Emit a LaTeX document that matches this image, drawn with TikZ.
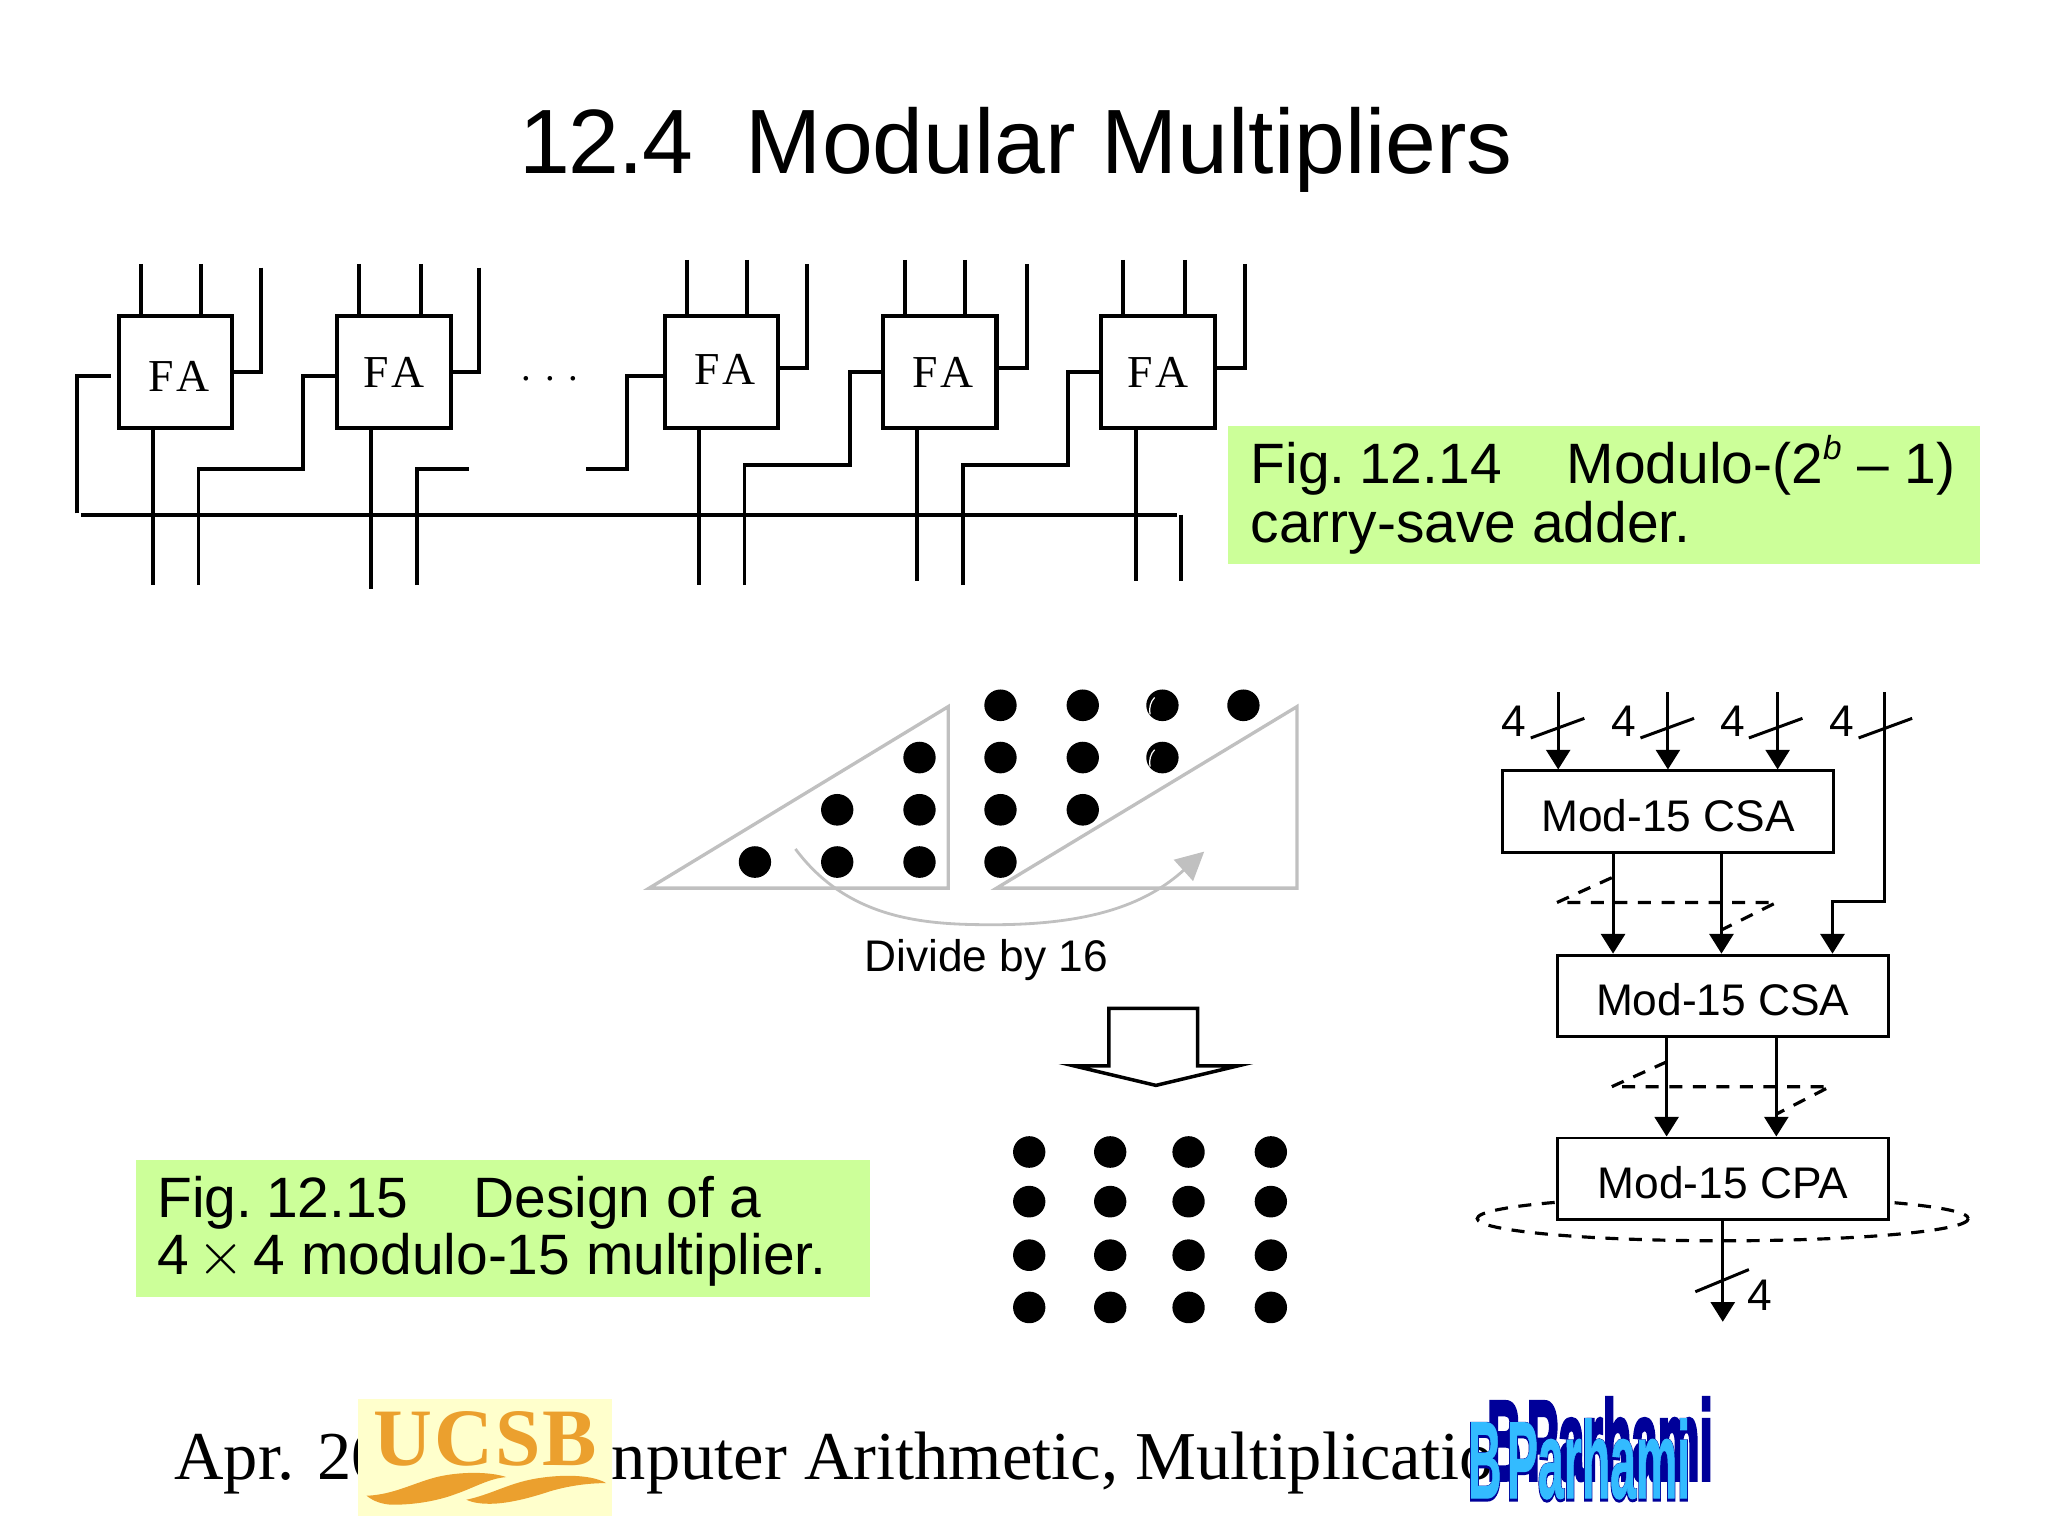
\documentclass[tikz,border=0pt]{standalone}
\usepackage{fontspec}
\setmainfont{Liberation Sans}
\newfontfamily\timesf{Liberation Serif}
\newfontfamily\ucsbf{Liberation Serif Bold}
\newfontfamily\wordart[FakeBold=1]{Liberation Sans Bold}
\newfontfamily\wordartfat[FakeBold=4]{Liberation Sans Bold}
\usetikzlibrary{arrows.meta,calc,shapes.geometric}
\definecolor{capgreen}{HTML}{CCFF99}
\definecolor{softgray}{HTML}{C0C0C0}
\definecolor{ucsbbg}{HTML}{FFFFCC}
\definecolor{ucsbor}{HTML}{EBA02E}
\definecolor{wadark}{HTML}{000099}
\definecolor{wacyan}{HTML}{33BBFF}
\tikzset{
  x=0.0130612cm, y=-0.0130612cm,
  fabox/.style={draw,line width=1.15pt,minimum width=32.3pt,minimum height=31.9pt,inner sep=0pt,text height=8.6pt,text depth=0pt,font=\timesf\fontsize{13}{13}\selectfont},
  wire/.style={line width=1.1pt},
  caption/.style={anchor=base west,inner sep=0,font=\fontsize{16.2}{16.2}\selectfont},
  grayline/.style={draw=softgray,line width=0.95pt},
  dot/.style={fill=black,draw=none,ellipse,minimum width=9.2pt,minimum height=9pt,inner sep=0},
  modbox/.style={draw,fill=white,line width=0.85pt,minimum width=94.3pt,minimum height=23.2pt,inner sep=0,text height=11.4pt,text depth=0pt,font=\fontsize{12.6}{12.6}\selectfont},
  fl/.style={line width=0.85pt},
  arr/.style={fl,-{Triangle[length=5.6pt,width=6.8pt]}},
  lab/.style={inner sep=0,font=\fontsize{12.6}{12.6}\selectfont},
  dashline/.style={line width=0.9pt,dash pattern=on 3.7pt off 3pt},
  glint/.style={draw=white,line width=0.35pt},
}
\begin{document}
\begin{tikzpicture}
\useasboundingbox (0,0) rectangle (1568,1176);
\node[anchor=base,inner sep=0,font=\fontsize{26}{26}\selectfont] (title) at (778,133) {1\kern-0.6pt 2.\kern-0.6pt 4\hspace{0.58em}Modular Multipliers};

% ---- Fig 12.14: FA row
\node[fabox,text height=10.8pt] (fa1) at (134.5,285) {\hspace{2pt}F\kern0.8pt A};
\node[fabox] (fa2) at (301.5,285) {F\kern0.8pt A};
\node[fabox,text depth=1.5pt] (fa3) at (552.5,285) {\hspace{2pt}F\kern0.8pt A};
\node[fabox] (fa4) at (719.5,285) {\hspace{2pt}F\kern0.8pt A};
\node[fabox] (fa5) at (886.5,285) {F\kern0.8pt A};
\node[inner sep=0,font=\timesf\fontsize{11}{11}\selectfont] (dots) at (421,290) {.\hspace{4pt}.\hspace{4pt}.};

\foreach \n/\xa/\xb/\xc/\ya/\yc/\yr in {1/108/154/200/202/205/285, 2/275/322/367/202/205/285, 3/526/572/618/199/202/282, 4/693/739/786/199/202/282, 5/860/907/953/199/202/282}{
  \coordinate (ta\n) at (\xa,\ya);
  \coordinate (tb\n) at (\xb,\ya);
  \coordinate (tc\n) at (\xc,\yc);
  \coordinate (tr\n) at (\xc,\yr);
  \draw[wire] (ta\n) -- (ta\n |- fa\n.north);
  \draw[wire] (tb\n) -- (tb\n |- fa\n.north);
  \draw[wire] (tc\n) -- (tr\n) -- (tr\n -| fa\n.east);
}
\foreach \n/\xs/\ye in {1/117/448, 2/284/451, 3/535/448, 4/702/445, 5/870/445}{
  \coordinate (bo\n) at (\xs,\ye);
  \draw[wire] (bo\n |- fa\n.south) -- (bo\n);
}
\coordinate (busl) at (62,394);
\coordinate (busr) at (901,394);
\coordinate (endd) at (904,445);
\draw[wire] (busl) -- (busr);
\draw[wire] (endd |- busr) -- (endd);
\coordinate (wa) at (59,393);
\coordinate (wb) at (59,288);
\coordinate (wc) at (85,288);
\draw[wire] (wa) -- (wb) -- (wc);
\coordinate (c2a) at (152,448); \coordinate (c2b) at (152,359); \coordinate (c2c) at (232,359); \coordinate (c2d) at (232,288);
\draw[wire] (c2a) -- (c2b) -- (c2c) -- (c2d) -- (c2d -| fa2.west);
\coordinate (c3a) at (319,448); \coordinate (c3b) at (319,359); \coordinate (c3c) at (359,359);
\draw[wire] (c3a) -- (c3b) -- (c3c);
\coordinate (c4a) at (449,359); \coordinate (c4b) at (480,359); \coordinate (c4c) at (480,288);
\draw[wire] (c4a) -- (c4b) -- (c4c) -- (c4c -| fa3.west);
\coordinate (c5a) at (570,448); \coordinate (c5b) at (570,356); \coordinate (c5c) at (651,356); \coordinate (c5d) at (651,285);
\draw[wire] (c5a) -- (c5b) -- (c5c) -- (c5d) -- (c5d -| fa4.west);
\coordinate (c6a) at (737,448); \coordinate (c6b) at (737,356); \coordinate (c6c) at (818,356); \coordinate (c6d) at (818,285);
\draw[wire] (c6a) -- (c6b) -- (c6c) -- (c6d) -- (c6d -| fa5.west);

% captions
\fill[capgreen] (940,326) rectangle (1516,432);
\node[caption] (cap1a) at (957,370) {Fig.\hspace{0.24em}12.14\hspace{18.5pt}Modulo-(2\raisebox{0.42em}{\fontsize{9.5}{9.5}\selectfont\itshape b} – 1)};
\node[caption] (cap1b) at (957,415) {carry-save adder.};
\fill[capgreen] (104,888) rectangle (666,993);
\node[caption] (cap2a) at (120,932) {Fig.\hspace{0.24em}12.15\hspace{18.5pt}Design of a};
\node[caption] (cap2b) at (120,976) {4\hspace{2.5pt}$\times$\hspace{2.5pt}4 modulo-15 multiplier.};

% ---- dot diagram
\draw[grayline,line join=miter] (497,680) -- (726,680) -- (726,541) -- cycle;
\draw[grayline,line join=miter] (763,680) -- (993,680) -- (993,541) -- cycle;
\foreach \xx/\yy in {578/660,641/660,704/660,766/660,641/620,704/620,766/620,829/620,704/580,766/580,829/580,890/580,766/540,829/540,890/540,952/540}
  \node[dot] at (\xx,\yy) {};
\draw[glint] (880.5,547) .. controls (879.5,542) and (881,537) .. (884,534);
\draw[glint] (880.5,587) .. controls (879.5,582) and (881,577) .. (884,574);
\coordinate (cs) at (609,650);
\coordinate (ce) at (922,652);
\draw[softgray,line width=0.8pt,-{Triangle[length=8pt,width=8pt]}] (cs) .. controls (650,705) and (710,708) .. (760,708) .. controls (840,708) and (880,690) .. (ce);
\node[lab,anchor=base] (div) at (755,744) {Divide by 16};
\draw[line width=1pt,fill=white,line join=miter] (849,816) -- (849,772) -- (917,772) -- (917,816) -- (948,816) -- (885,831) -- (822,816) -- cycle;
\foreach \xx in {788,850,910,973}
  \foreach \yy in {882,920,961,1001}
    \node[dot] at (\xx,\yy) {};

% ---- Mod-15 tree
\draw[dashline] (1319,933) ellipse [x radius=188,y radius=17];
\node[modbox] (csa1) at (1277,621.5) {Mod-15 CSA};
\node[modbox] (csa2) at (1319,762.5) {Mod-15 CSA};
\node[modbox] (cpa) at (1319,902.5) {Mod-15 CPA};
\foreach \n/\xx/\xl/\xs in {1/1193/1159/1172,2/1277/1243/1256,3/1361/1327/1339,4/1443/1410/1423}{
  \coordinate (in\n) at (\xx,530);
  \coordinate (sa\n) at (\xs,565);
  \coordinate (sb\n) at ($(\xs,550)+(41,0)$);
  \node[lab] (four\n) at (\xl,552) {4};
  \draw[fl] (sa\n) -- (sb\n);
}
\draw[arr] (in1) -- (in1 |- csa1.north);
\draw[arr] (in2) -- (in2 |- csa1.north);
\draw[arr] (in3) -- (in3 |- csa1.north);
\coordinate (bendtop) at (1443,690);
\coordinate (bendbot) at (1403,690);
\draw[arr] (in4) -- (bendtop) -- (bendbot) -- (bendbot |- csa2.north);
\coordinate (p1) at (1235,653); \coordinate (p2) at (1318,653);
\draw[arr] (p1 |- csa1.south) -- (p1 |- csa2.north);
\draw[arr] (p2 |- csa1.south) -- (p2 |- csa2.north);
\coordinate (p3) at (1276,794); \coordinate (p4) at (1360,794);
\draw[arr] (p3 |- csa2.south) -- (p3 |- cpa.north);
\draw[arr] (p4 |- csa2.south) -- (p4 |- cpa.north);
\coordinate (d1a) at (1234,672); \coordinate (d1b) at (1192,691); \coordinate (d1c) at (1360,691); \coordinate (d1d) at (1318,712);
\draw[dashline] (d1a) -- (d1b) -- (d1c) -- (d1d);
\coordinate (d2a) at (1276,813); \coordinate (d2b) at (1234,832); \coordinate (d2c) at (1401,832); \coordinate (d2d) at (1360,853);
\draw[dashline] (d2a) -- (d2b) -- (d2c) -- (d2d);
\coordinate (outp) at (1319,1012);
\draw[arr] (cpa.south -| outp) -- (outp);
\coordinate (so1) at (1298,989); \coordinate (so2) at (1339,972);
\draw[fl] (so1) -- (so2);
\node[lab] (fourout) at (1347,992) {4};

% ---- footer
\node[anchor=base west,inner sep=0,font=\timesf\fontsize{19.5}{19.5}\selectfont] (foota) at (133,1133) {Apr. 20};
\node[anchor=base west,inner sep=0,font=\timesf\fontsize{19.5}{19.5}\selectfont] (footb) at (468,1133) {nputer Arithmetic, Multiplicatio};
% UCSB logo
\node[fill=ucsbbg,minimum width=72.4pt,minimum height=33.4pt,inner sep=0] (ucsbbox) at (371.5,1116) {};
\node[inner sep=0,text=ucsbor,font=\ucsbf\fontsize{23.2}{23.2}\selectfont] (ucsb) at (371.5,1102) {U\kern0.5pt C\kern0.5pt S\kern0.5pt B};
\begin{scope}[shift={(268,1064.2)},x=0.003333cm,y=-0.003333cm]
\fill[ucsbor] (50,318) .. controls (130,315) and (190,280) .. (260,262) .. controls (330,245) and (420,245) .. (470,262) .. controls (420,265) and (370,295) .. (320,312) .. controls (260,335) and (190,345) .. (130,345) .. controls (100,345) and (70,335) .. (50,318) -- cycle;
\fill[ucsbor] (350,330) .. controls (420,315) and (470,285) .. (540,270) .. controls (610,255) and (720,250) .. (770,280) .. controls (710,280) and (650,290) .. (600,305) .. controls (540,325) and (480,340) .. (430,342) .. controls (400,343) and (370,340) .. (350,330) -- cycle;
\end{scope}
% word art
\node[inner sep=0,text=wadark,font=\wordartfat\fontsize{20}{20}\selectfont,xscale=0.67,yscale=1.6] (wab) at (1225,1102) {B\hspace{.12em}Parhami};
\node[inner sep=0,text=wadark,font=\wordartfat\fontsize{20}{20}\selectfont,xscale=0.66,yscale=1.56] (waf) at (1209,1118) {B\hspace{.12em}Parhami};
\node[inner sep=0,text=wacyan,font=\wordart\fontsize{20}{20}\selectfont,xscale=0.66,yscale=1.56] (wac) at (1209,1117) {B\hspace{.12em}Parhami};
\end{tikzpicture}
\end{document}
